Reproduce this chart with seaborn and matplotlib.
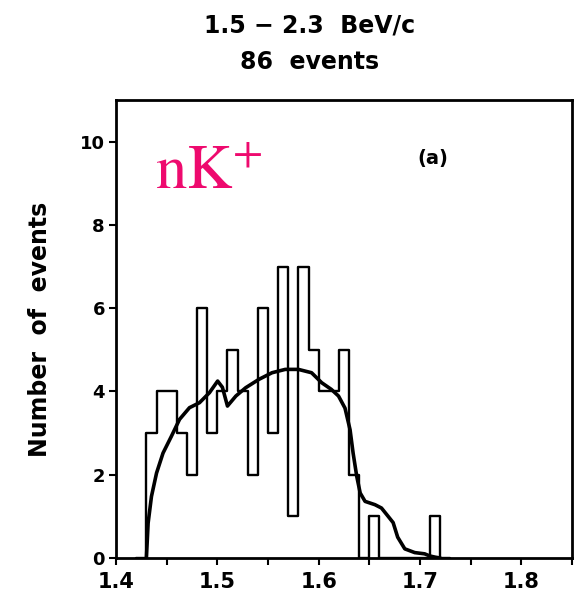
import matplotlib
matplotlib.use("Agg")
import matplotlib.pyplot as plt
import seaborn as sns
import numpy as np
import pandas as pd

# Histogram data: bin left edges (0.01 wide) and counts
bin_left = [1.42, 1.43, 1.44, 1.45, 1.46, 1.47, 1.48, 1.49, 1.50, 1.51, 1.52,
            1.53, 1.54, 1.55, 1.56, 1.57, 1.58, 1.59, 1.60, 1.61, 1.62,
            1.63, 1.64, 1.65, 1.66, 1.67, 1.68, 1.69, 1.70, 1.71, 1.72]
counts = [0, 3, 4, 4, 3, 2, 6, 3, 4, 5, 4,
          2, 6, 3, 7, 1, 7, 5, 4, 4, 5,
          2, 0, 1, 0, 0, 0, 0, 0, 1, 0]

# Smooth curve
curve_x = [1.430, 1.4317, 1.435, 1.440, 1.4464, 1.4546, 1.4627, 1.4725, 1.4824,
           1.4922, 1.5003, 1.505, 1.510, 1.5183, 1.528, 1.541, 1.554, 1.567,
           1.580, 1.593, 1.603, 1.6125, 1.6196, 1.626, 1.631, 1.634, 1.6376,
           1.641, 1.6458, 1.6556, 1.662, 1.6686, 1.6735, 1.678, 1.685, 1.6948,
           1.7046, 1.7095, 1.715, 1.72]
curve_y = [0, 0.84, 1.48, 2.04, 2.52, 2.92, 3.33, 3.61, 3.73,
           3.97, 4.25, 4.1, 3.65, 3.89, 4.09, 4.29, 4.45, 4.53,
           4.53, 4.45, 4.21, 4.05, 3.89, 3.6, 3.08, 2.52, 1.96,
           1.56, 1.36, 1.28, 1.2, 1.0, 0.85, 0.5, 0.22, 0.13,
           0.10, 0.05, 0.02, 0]

x_ticks = [1.4, 1.5, 1.6, 1.7, 1.8]
y_ticks = [0, 2, 4, 6, 8, 10]

sns.set_style("white")
plt.rcParams['font.family'] = ['DejaVu Sans']
plt.rcParams.update({"text.color": "black", "axes.labelcolor": "black",
                     "xtick.color": "black", "ytick.color": "black"})

fig = plt.figure(figsize=(5.76, 6.0), dpi=100)
ax = fig.add_axes([0.2014, 0.07, 0.7916, 0.7633])

width = 0.01
edges = bin_left + [bin_left[-1] + width]
hist_df = pd.DataFrame({"x": [b + width / 2 for b in bin_left], "w": counts})
sns.histplot(data=hist_df, x="x", weights="w", bins=edges, element="step",
             fill=False, color="black", linewidth=1.7, ax=ax)

curve_df = pd.DataFrame({"x": curve_x, "y": curve_y})
sns.lineplot(data=curve_df, x="x", y="y", color="black", linewidth=2.6,
             ax=ax, estimator=None, sort=False)

ax.set_xlim(1.4, 1.847)
ax.set_ylim(0, 11)
ax.set_xticks(x_ticks)
ax.set_xticklabels([f"{t:.1f}" for t in x_ticks])
ax.set_xticks(np.arange(1.45, 1.85, 0.1), minor=True)
ax.set_yticks(y_ticks)
ax.set_yticklabels([str(t) for t in y_ticks])
ax.tick_params(axis="x", which="both", direction="out", length=5, width=1.5,
               bottom=True, labelsize=15, pad=5, colors="black")
ax.tick_params(axis="y", which="major", direction="out", length=5, width=1.5,
               left=True, labelsize=13, pad=3, colors="black")
for lab in ax.get_xticklabels():
    lab.set_fontweight("semibold")
for lab in ax.get_yticklabels():
    lab.set_fontweight("bold")
for sp in ax.spines.values():
    sp.set_linewidth(2)
    sp.set_color("black")

ax.set_xlabel("")
ax.set_ylabel("Number  of  events", fontsize=17, fontweight="bold", labelpad=20,
              color="black")

fig.text(0.538, 0.958, "1.5 − 2.3  BeV/c", ha="center", va="center",
         fontsize=17, fontweight="bold", color="black")
fig.text(0.538, 0.896, "86  events", ha="center", va="center",
         fontsize=17, fontweight="bold", color="black")

ax.text(1.438, 8.87, r"$\mathrm{nK}^{+}$", color="#ee0a6e", fontsize=45,
        ha="left", va="baseline", math_fontfamily="stix")
ax.text(1.713, 9.6, "(a)", fontsize=14, ha="center", va="center",
        fontweight="bold", color="black")

fig.savefig("out.png", dpi=100)
